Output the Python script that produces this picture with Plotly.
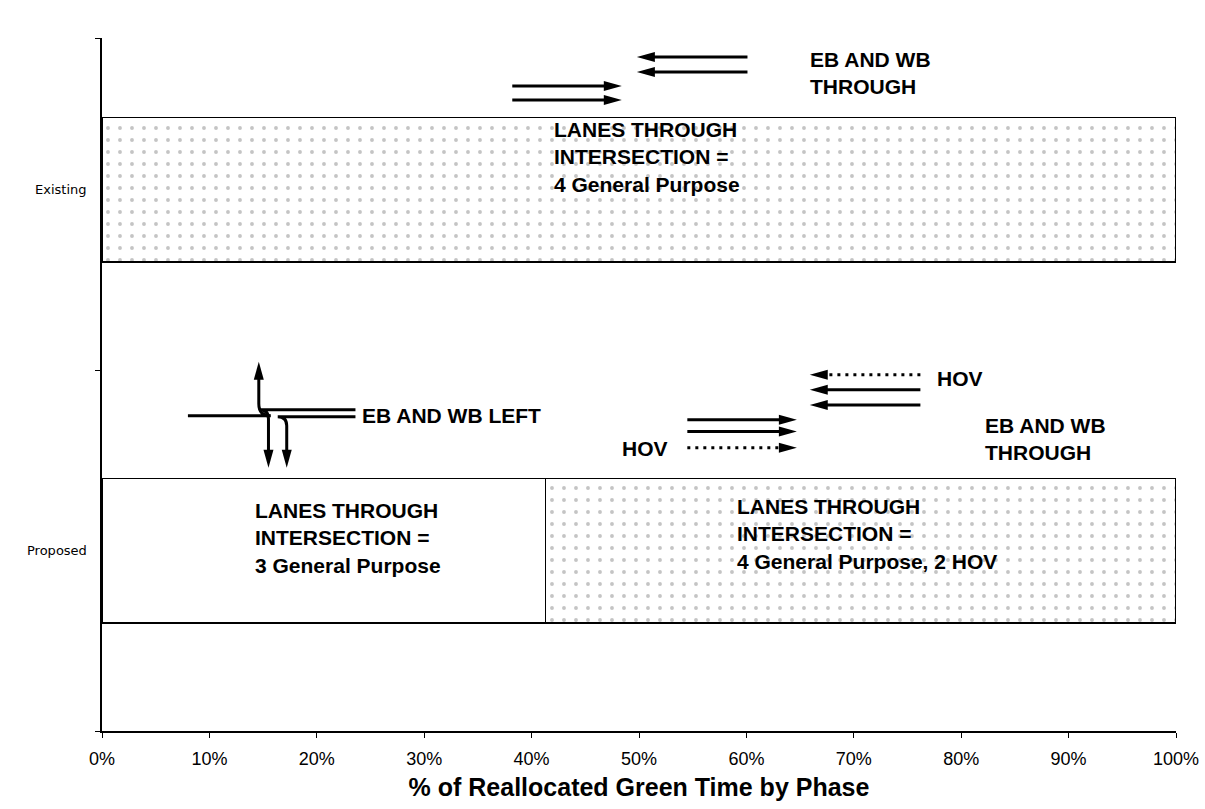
import plotly.graph_objects as go

# ---------------- data ----------------
categories = ["Existing", "Proposed"]
category_pos = [1, 0]                 # vertical position of each bar
left_turn_phase = [0.0, 41.3]         # % of reallocated green time, EB/WB left phase
through_phase = [100.0, 58.7]         # % of reallocated green time, EB/WB through phase
x_tick_values = [0, 10, 20, 30, 40, 50, 60, 70, 80, 90, 100]
x_tick_labels = [f"{v}%" for v in x_tick_values]
x_title = "% of Reallocated Green Time by Phase"

# straight movement arrows: (x start %, x tip %, y, dotted?)
straight_arrows = [
    (38.2, 48.4, 1.288, False), (38.2, 48.4, 1.249, False),
    (60.1, 49.8, 1.368, False), (60.1, 49.8, 1.327, False),
    (76.2, 65.9, 0.4875, True), (76.2, 65.9, 0.446, False), (76.2, 65.9, 0.404, False),
    (54.5, 64.7, 0.363, False), (54.5, 64.7, 0.330, False), (54.5, 64.7, 0.285, True),
]
# turning arrows: (x start %, y start, x of vertical leg %, y tip, corner radius px)
turn_arrows = [
    (8.0, 0.374, 14.6, 0.5235, 12),
    (23.6, 0.3906, 15.5, 0.230, 9),
    (23.6, 0.371, 17.2, 0.230, 9),
]
# text labels: (text, x %, y)
labels = [
    ("EB AND WB<br>THROUGH", 65.7, 1.323),
    ("LANES THROUGH<br>INTERSECTION =<br>4 General Purpose", 41.9, 1.091),
    ("EB AND WB LEFT", 24.0, 0.374),
    ("HOV", 77.6, 0.4765),
    ("HOV", 48.2, 0.2826),
    ("EB AND WB<br>THROUGH", 82.0, 0.310),
    ("LANES THROUGH<br>INTERSECTION =<br>3 General Purpose", 14.06, 0.036),
    ("LANES THROUGH<br>INTERSECTION =<br>4 General Purpose, 2 HOV", 58.9, 0.047),
]

Y_RANGE = [-0.5, 1.421]
W, H = 1205, 809
M = dict(l=102, r=29, t=38, b=78)
PX_X = (W - M["l"] - M["r"]) / 100.0
PX_Y = (H - M["t"] - M["b"]) / (Y_RANGE[1] - Y_RANGE[0])
HEAD_L, HEAD_W = 18, 10

fig = go.Figure()
fig.add_trace(go.Bar(
    y=category_pos, x=left_turn_phase, orientation="h", width=0.4,
    marker=dict(color="white", line=dict(color="black", width=1.5)),
    hoverinfo="skip", showlegend=False,
))
fig.add_trace(go.Bar(
    y=category_pos, x=through_phase, orientation="h", width=0.4,
    marker=dict(color="white", line=dict(color="black", width=1.5),
                pattern=dict(shape=".", fgcolor="#c4c4c4", bgcolor="white",
                             size=12, solidity=0.08, fillmode="replace")),
    hoverinfo="skip", showlegend=False,
))

shapes = []


def head(tx, ty, d):
    lx, wy = HEAD_L / PX_X, HEAD_W / 2 / PX_Y
    ly, wx = HEAD_L / PX_Y, HEAD_W / 2 / PX_X
    if d == "r":
        pts = [(tx, ty), (tx - lx, ty + wy), (tx - lx, ty - wy)]
    elif d == "l":
        pts = [(tx, ty), (tx + lx, ty + wy), (tx + lx, ty - wy)]
    elif d == "u":
        pts = [(tx, ty), (tx - wx, ty - ly), (tx + wx, ty - ly)]
    else:
        pts = [(tx, ty), (tx - wx, ty + ly), (tx + wx, ty + ly)]
    path = "M " + " L ".join(f"{a},{b}" for a, b in pts) + " Z"
    shapes.append(dict(type="path", path=path, xref="x", yref="y",
                       fillcolor="black", line=dict(width=0)))


for x0, x1, y, dotted in straight_arrows:
    d = "r" if x1 > x0 else "l"
    back = (HEAD_L - 4) / PX_X * (1 if d == "r" else -1)
    shapes.append(dict(type="line", xref="x", yref="y", x0=x0, x1=x1 - back, y0=y, y1=y,
                       line=dict(color="black", width=3,
                                 dash="3px,5px" if dotted else "solid")))
    head(x1, y, d)

for xs, ys, xv, yt, rad in turn_arrows:
    up = yt > ys
    rx, ry = rad / PX_X, rad / PX_Y
    sx = -1 if xs > xv else 1
    sy = 1 if up else -1
    yend = yt - sy * (HEAD_L - 4) / PX_Y
    path = (f"M {xs},{ys} L {xv + sx * rx},{ys} "
            f"Q {xv},{ys} {xv},{ys + sy * ry} L {xv},{yend}")
    shapes.append(dict(type="path", path=path, xref="x", yref="y",
                       line=dict(color="black", width=3)))
    head(xv, yt, "u" if up else "d")

annotations = []
for txt, x, y in labels:
    annotations.append(dict(text=txt, x=x, y=y, xref="x", yref="y", showarrow=False,
                            xanchor="left", yanchor="middle", align="left",
                            font=dict(family="Liberation Sans, Arial", size=21,
                                      color="black", weight="bold")))
for cat, pos in zip(categories, category_pos):
    annotations.append(dict(text=cat, x=0, y=pos, xref="paper", yref="y", showarrow=False,
                            xanchor="right", yanchor="middle", xshift=-13,
                            font=dict(family="DejaVu Sans", size=13, color="black")))

fig.update_layout(
    width=W, height=H, margin=M, barmode="stack",
    paper_bgcolor="white", plot_bgcolor="white",
    shapes=shapes, annotations=annotations, showlegend=False,
    xaxis=dict(range=[0, 100], tickvals=x_tick_values, ticktext=x_tick_labels,
               ticks="outside", ticklen=5, tickcolor="black", showline=True,
               linecolor="black", linewidth=1.5, showgrid=False, zeroline=False,
               ticklabelstandoff=6, automargin=False, ticklabeloverflow="allow",
               tickfont=dict(family="Liberation Sans, Arial", size=18, color="black"),
               title=dict(text=x_title, standoff=10,
                          font=dict(family="Liberation Sans, Arial", size=25,
                                    color="black", weight="bold"))),
    yaxis=dict(range=Y_RANGE, tickvals=[-0.5, 0.5, 1.421], ticktext=["", "", ""],
               ticks="outside", ticklen=5, tickcolor="black", showline=True,
               linecolor="black", linewidth=1.5, showgrid=False, zeroline=False,
               automargin=False),
)

fig.write_html("out.html", config={"displayModeBar": False},
               post_script="document.body.style.margin='0';")
